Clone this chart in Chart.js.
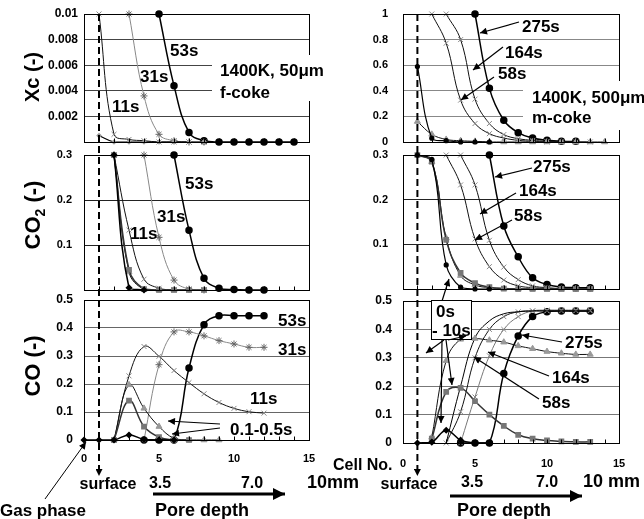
<!DOCTYPE html>
<html>
<head>
<meta charset="utf-8">
<script src="https://cdn.jsdelivr.net/npm/chart.js@4/dist/chart.umd.min.js"></script>
<style>
  body { margin: 0; background: #fff; }
  #wrap { position: relative; width: 644px; height: 519px; overflow: hidden; background: #fff; }
  canvas { position: absolute; }
  #ann { position: absolute; left: 0; top: 0; }
  #ann text { font-family: Arial, "Liberation Sans", sans-serif; font-weight: bold; fill: #000; }
  #ann text.lab { font-size: 17px; }
</style>
</head>
<body>
<div id="wrap">
  <canvas id="cLT" width="318" height="140" style="left:0;top:8px"></canvas>
  <canvas id="cLM" width="318" height="147" style="left:0;top:149px"></canvas>
  <canvas id="cLB" width="318" height="176" style="left:0;top:294px"></canvas>
  <canvas id="cRT" width="324" height="140" style="left:320px;top:8px"></canvas>
  <canvas id="cRM" width="324" height="146" style="left:320px;top:149px"></canvas>
  <canvas id="cRB" width="324" height="178" style="left:320px;top:295px"></canvas>

  <svg id="ann" width="644" height="519">
    <defs>
      <marker id="ah" viewBox="0 0 10 10" refX="10" refY="5" markerWidth="8" markerHeight="7" markerUnits="userSpaceOnUse" orient="auto"><path d="M0,0 L10,5 L0,10 z" fill="#000"/></marker>
      <marker id="ahBig" viewBox="0 0 10 10" refX="10" refY="5" markerWidth="14" markerHeight="12" markerUnits="userSpaceOnUse" orient="auto"><path d="M0,0 L10,5 L0,10 z" fill="#000"/></marker>
    </defs>

    <!-- white label boxes -->
    <rect x="212" y="55" width="113" height="46" fill="#fff"/>
    <rect x="523" y="81" width="121" height="49" fill="#fff"/>

    <!-- y titles -->
    <text transform="translate(39,77) rotate(-90)" text-anchor="middle" font-size="20">Xc (-)</text>
    <text transform="translate(40,215) rotate(-90)" text-anchor="middle" font-size="22">CO<tspan font-size="14" dy="5">2</tspan><tspan dy="-5"> (-)</tspan></text>
    <text transform="translate(40,366) rotate(-90)" text-anchor="middle" font-size="22">CO (-)</text>

    <!-- left top -->
    <text class="lab" x="170" y="56">53s</text>
    <text class="lab" x="140" y="82">31s</text>
    <text class="lab" x="112" y="112">11s</text>
    <text class="lab" x="220" y="76">1400K, 50μm</text>
    <text class="lab" x="220" y="98">f-coke</text>

    <!-- left middle -->
    <text class="lab" x="185" y="189">53s</text>
    <text class="lab" x="157" y="222">31s</text>
    <text class="lab" x="130" y="239">11s</text>

    <!-- left bottom -->
    <text class="lab" x="278" y="326">53s</text>
    <text class="lab" x="278" y="355">31s</text>
    <text class="lab" x="250" y="404">11s</text>
    <text class="lab" x="230" y="435">0.1-0.5s</text>
    <line x1="220" y1="424" x2="168" y2="421" stroke="#000" stroke-width="1.2" marker-end="url(#ah)"/>
    <line x1="220" y1="428" x2="172" y2="434" stroke="#000" stroke-width="1.2" marker-end="url(#ah)"/>

    <!-- right top -->
    <text class="lab" x="522" y="32">275s</text>
    <text class="lab" x="505" y="58">164s</text>
    <text class="lab" x="498" y="79">58s</text>
    <line x1="519" y1="22" x2="480" y2="33" stroke="#000" stroke-width="1.2" marker-end="url(#ah)"/>
    <line x1="503" y1="47" x2="473" y2="70" stroke="#000" stroke-width="1.2" marker-end="url(#ah)"/>
    <line x1="494" y1="77" x2="461" y2="100" stroke="#000" stroke-width="1.2" marker-end="url(#ah)"/>
    <text class="lab" x="532" y="103">1400K, 500μm</text>
    <text class="lab" x="532" y="123">m-coke</text>

    <!-- right middle -->
    <text class="lab" x="533" y="172">275s</text>
    <text class="lab" x="519" y="196">164s</text>
    <text class="lab" x="514" y="221">58s</text>
    <line x1="532" y1="168" x2="495" y2="177" stroke="#000" stroke-width="1.2" marker-end="url(#ah)"/>
    <line x1="516" y1="193" x2="480" y2="214" stroke="#000" stroke-width="1.2" marker-end="url(#ah)"/>
    <line x1="512" y1="220" x2="475" y2="240" stroke="#000" stroke-width="1.2" marker-end="url(#ah)"/>
    <line x1="442" y1="301" x2="449" y2="279" stroke="#000" stroke-width="1.2" marker-end="url(#ah)"/>

    <!-- right bottom -->
    <rect x="431.5" y="300.5" width="40" height="39" fill="#fff" stroke="#000" stroke-width="1"/>
    <text class="lab" x="436" y="317">0s</text>
    <text class="lab" x="432" y="336">- 10s</text>
    <line x1="444" y1="340" x2="426" y2="353" stroke="#000" stroke-width="1.2" marker-end="url(#ah)"/>
    <line x1="446" y1="340" x2="452" y2="385" stroke="#000" stroke-width="1.2" marker-end="url(#ah)"/>
    <line x1="442" y1="340" x2="441" y2="423" stroke="#000" stroke-width="1.2" marker-end="url(#ah)"/>
    <line x1="448" y1="340" x2="466" y2="336" stroke="#000" stroke-width="1.2" marker-end="url(#ah)"/>
    <text class="lab" x="565" y="348">275s</text>
    <text class="lab" x="552" y="383">164s</text>
    <text class="lab" x="542" y="408">58s</text>
    <line x1="562" y1="342" x2="522" y2="335" stroke="#000" stroke-width="1.2" marker-end="url(#ah)"/>
    <line x1="549" y1="376" x2="488" y2="352" stroke="#000" stroke-width="1.2" marker-end="url(#ah)"/>
    <line x1="539" y1="399" x2="474" y2="357" stroke="#000" stroke-width="1.2" marker-end="url(#ah)"/>

    <!-- bottom captions -->
    <text x="333" y="470" font-size="16">Cell No.</text>
    <text x="108" y="489" font-size="16" text-anchor="middle">surface</text>
    <text x="409" y="489" font-size="16" text-anchor="middle">surface</text>
    <text x="160" y="488" font-size="16" text-anchor="middle">3.5</text>
    <text x="252" y="488" font-size="16" text-anchor="middle">7.0</text>
    <text x="472" y="487" font-size="16" text-anchor="middle">3.5</text>
    <text x="547" y="487" font-size="16" text-anchor="middle">7.0</text>
    <text x="307" y="488" font-size="18">10mm</text>
    <text x="583" y="487" font-size="18">10 mm</text>
    <line x1="153" y1="494" x2="285" y2="494" stroke="#000" stroke-width="3" marker-end="url(#ahBig)"/>
    <line x1="450" y1="496" x2="582" y2="496" stroke="#000" stroke-width="3" marker-end="url(#ahBig)"/>
    <text x="155" y="516" font-size="18">Pore depth</text>
    <text x="457" y="516" font-size="18">Pore depth</text>
    <text x="0" y="516" font-size="17">Gas phase</text>
    <line x1="45" y1="499" x2="86" y2="442" stroke="#000" stroke-width="1" marker-end="url(#ah)"/>
  </svg>
</div>

<script>
const FONT = 'Arial, "Liberation Sans", sans-serif';
const _ = null;

// cell numbers (x axis)
const cells = [0, 1, 2, 3, 4, 5, 6, 7, 8, 9, 10, 11, 12, 13, 14];

// --- f-coke (50um), Xc ---
const fXc05 = [_, 0.0005, 0, 0, 0, 0, 0, 0, 0, _, _, _, _, _, _];
const fXc11 = [_, 0.01, 0.0006, 0.0002, 0.0001, 0, 0, 0, _, _, _, _, _, _, _];
const fXc31 = [_, _, _, 0.01, 0.0036, 0.0006, 0.0001, 0, 0, _, _, _, _, _, _];
const fXc53 = [_, _, _, _, _, 0.01, 0.0044, 0.00075, 0.0001, 0, 0, 0, 0, 0, 0];

// --- f-coke, CO2 ---
const fCO2_01 = [_, _, 0.3, 0.005, 0, _, _, _, _, _, _, _, _, _, _];
const fCO2_02 = [_, _, 0.3, 0.045, 0.002, 0, 0, 0, 0, _, _, _, _, _, _];
const fCO2_05 = [_, _, 0.3, 0.04, 0.001, 0, 0, _, _, _, _, _, _, _, _];
const fCO2_11 = [_, _, 0.3, 0.133, 0.024, 0.004, 0, 0, _, _, _, _, _, _, _];
const fCO2_31 = [_, _, _, _, 0.3, 0.117, 0.022, 0.002, 0, _, _, _, _, _, _];
const fCO2_53 = [_, _, _, _, _, _, 0.3, 0.133, 0.026, 0.004, 0.001, 0, 0, _, _];

// --- f-coke, CO ---
const fCO_01 = [0, 0, 0, 0.018, 0.002, 0, 0, _, _, _, _, _, _, _, _];
const fCO_02 = [_, _, 0, 0.141, 0.048, 0.01, 0, 0, _, _, _, _, _, _, _];
const fCO_05 = [_, _, 0, 0.197, 0.113, 0.048, 0.006, 0, 0, 0, _, _, _, _, _];
const fCO_11 = [_, _, 0, 0.229, 0.334, 0.299, 0.248, 0.205, 0.165, 0.134, 0.113, 0.101, 0.096, _, _];
const fCO_31 = [_, _, _, _, 0, 0.269, 0.386, 0.386, 0.372, 0.355, 0.343, 0.331, 0.331, _, _];
const fCO_53 = [_, _, _, _, 0, 0, 0, 0.257, 0.412, 0.444, 0.444, 0.444, 0.444, _, _];

// --- m-coke (500um), Xc ---
const mXc0 = [_, 0.59, 0.03, 0.01, 0, 0, 0, _, _, _, _, _, _, _, _];
const mXc10 = [_, 0.16, 0.06, 0.02, 0.01, 0.005, 0, 0, 0, 0, 0, 0, 0, 0, 0];
const mXc58 = [_, _, 1.0, 0.772, 0.327, 0.144, 0.065, 0.031, 0.013, 0.005, 0, 0, _, _, _];
const mXc164 = [_, _, _, 1.0, 0.80, 0.335, 0.144, 0.058, 0.026, 0.013, 0.005, 0, 0, 0, _];
const mXc275 = [_, _, _, _, _, 1.0, 0.419, 0.17, 0.073, 0.031, 0.013, 0.005, 0.005, _, _];

// --- m-coke, CO2 ---
const mCO2_0 = [_, 0.3, 0.29, 0.054, 0.004, 0, 0, _, _, _, _, _, _, _, _];
const mCO2_sq = [_, 0.3, 0.285, 0.11, 0.036, 0.013, 0.004, 0.001, 0, 0, 0, 0, 0, 0, _];
const mCO2_tri = [_, 0.3, 0.285, 0.114, 0.03, 0.009, 0.003, 0.001, 0, 0, 0, 0, 0, 0, _];
const mCO2_58 = [_, _, _, 0.3, 0.233, 0.112, 0.05, 0.02, 0.007, 0.003, 0.001, 0, 0, 0, _];
const mCO2_164 = [_, _, _, _, 0.3, 0.233, 0.109, 0.049, 0.021, 0.007, 0.003, 0.001, 0, 0, _];
const mCO2_275 = [_, _, _, _, _, _, 0.3, 0.141, 0.072, 0.025, 0.01, 0.0045, 0.003, 0.003, _];

// --- m-coke, CO ---
const mCO_0 = [_, 0, 0.003, 0.045, 0.01, 0, 0, _, _, _, _, _, _, _, _];
const mCO_sq = [_, _, 0.015, 0.18, 0.194, 0.147, 0.1, 0.06, 0.029, 0.015, 0.009, 0.006, 0.004, 0.004, _];
const mCO_tri = [_, _, 0.02, 0.29, 0.365, 0.368, 0.362, 0.355, 0.342, 0.332, 0.322, 0.316, 0.312, 0.312, _];
const mCO_10 = [_, _, _, 0, 0.2, 0.37, 0.43, 0.455, 0.462, 0.465, 0.465, 0.465, 0.465, 0.465, _];
const mCO_58 = [_, _, _, 0, 0.11, 0.30, 0.40, 0.445, 0.462, 0.465, 0.465, 0.465, 0.465, 0.465, _];
const mCO_164 = [_, _, _, _, 0, 0.162, 0.307, 0.40, 0.445, 0.465, 0.468, 0.468, 0.468, 0.468, _];
const mCO_275 = [_, _, _, _, 0, 0, 0, 0.245, 0.377, 0.445, 0.462, 0.465, 0.465, 0.465, _];

// marker / line styles
const BLACK_DOT = { borderColor: '#000', borderWidth: 1.5, pointStyle: 'circle', pointRadius: 3, pointBackgroundColor: '#000', pointBorderColor: '#000' };
const SMALL_DOT = { borderColor: '#000', borderWidth: 1.2, pointStyle: 'circle', pointRadius: 2, pointBackgroundColor: '#000', pointBorderColor: '#000' };
const GRAY_STAR = { borderColor: '#888', borderWidth: 1, pointStyle: 'star', pointRadius: 3.5, pointBackgroundColor: '#666', pointBorderColor: '#666', pointBorderWidth: 1 };
const GRAY_X = { borderColor: '#111', borderWidth: 1, pointStyle: 'crossRot', pointRadius: 3.5, pointBorderColor: '#888', pointBorderWidth: 1 };
const GRAY_X_THIN = { borderColor: '#777', borderWidth: 1, pointStyle: 'crossRot', pointRadius: 3.5, pointBorderColor: '#888', pointBorderWidth: 1 };
const GRAY_SQ = { borderColor: '#333', borderWidth: 1.5, pointStyle: 'rect', pointRadius: 3, pointBackgroundColor: '#777', pointBorderColor: '#777' };
const GRAY_TRI = { borderColor: '#111', borderWidth: 1, pointStyle: 'triangle', pointRadius: 3.5, pointBackgroundColor: '#999', pointBorderColor: '#999' };
const BLACK_DIA = { borderColor: '#000', borderWidth: 1.5, pointStyle: 'rectRot', pointRadius: 2.5, pointBackgroundColor: '#000', pointBorderColor: '#000' };
const GRAY_DIA = { borderColor: '#000', borderWidth: 1.2, pointStyle: 'rectRot', pointRadius: 2, pointBackgroundColor: '#999', pointBorderColor: '#999' };
const PLAIN = { borderColor: '#000', borderWidth: 1, pointRadius: 0 };

function series(values, style) {
    const data = [];
    values.forEach((v, i) => { if (v !== null) data.push({ x: cells[i], y: v }); });
    return Object.assign({ data: data, tension: 0.4, fill: false, clip: false }, style);
}

// plot frame + small inside ticks on the bottom edge
const framePlugin = {
    id: 'frame',
    afterDatasetsDraw(chart) {
        const { ctx, chartArea: a } = chart;
        const xs = chart.scales.x;
        ctx.save();
        ctx.strokeStyle = '#000';
        ctx.lineWidth = 1;
        const l = Math.round(a.left) + 0.5, t = Math.round(a.top) + 0.5;
        const r = Math.round(a.right) + 0.5, b = Math.round(a.bottom) + 0.5;
        ctx.strokeRect(l, t, r - l, b - t);
        ctx.beginPath();
        for (let c = 0; c <= 15; c++) {
            const px = Math.round(xs.getPixelForValue(c)) + 0.5;
            ctx.moveTo(px, b);
            ctx.lineTo(px, b - 4);
        }
        ctx.stroke();
        ctx.restore();
    }
};

const fmtXc = v => { const k = Math.round(v * 1000); return (k > 0 && k % 2 === 0) ? String(k / 1000) : ''; };
const fmtNoZero = v => { const k = Math.round(v * 10); return k > 0 ? String(k / 10) : ''; };
const fmtTenth = v => String(Math.round(v * 10) / 10);

function panel(id, p) {
    return new Chart(document.getElementById(id), {
        type: 'line',
        data: { datasets: p.datasets },
        plugins: [framePlugin],
        options: {
            responsive: false,
            animation: false,
            devicePixelRatio: 1,
            layout: { padding: { left: 0, top: 6, right: p.padRight, bottom: p.xLabels ? 0 : 6 } },
            plugins: { legend: { display: false }, tooltip: { enabled: false } },
            scales: {
                x: {
                    type: 'linear', min: 0, max: 15, display: p.xLabels,
                    ticks: { stepSize: 5, color: '#000', padding: p.xPad || 0, maxRotation: 0,
                             font: { family: FONT, weight: 'bold', size: 11 }, callback: v => String(v) },
                    grid: { drawOnChartArea: false, drawTicks: false },
                    border: { display: false },
                    afterFit: s => { if (p.xLabels) s.height = 30; s.paddingLeft = 0; s.paddingRight = 0; }
                },
                y: {
                    type: 'linear', min: 0, max: p.yMax,
                    ticks: { stepSize: p.step, callback: p.fmt, color: '#000', padding: p.yPad,
                             font: { family: FONT, weight: 'bold', size: p.yFont } },
                    grid: { color: p.gridColor, lineWidth: 1, drawTicks: false },
                    border: { display: false },
                    afterFit: s => { s.width = p.yWidth; s.paddingTop = 0; s.paddingBottom = 0; }
                }
            }
        }
    });
}

const chartLT = panel('cLT', {
    yMax: 0.01, step: 0.001, fmt: fmtXc, yPad: 6, yFont: 12, yWidth: 84, padRight: 9, xLabels: false, gridColor: '#444',
    datasets: [series(fXc05, GRAY_DIA), series(fXc11, GRAY_X), series(fXc31, GRAY_STAR), series(fXc53, BLACK_DOT)]
});
const chartLM = panel('cLM', {
    yMax: 0.3, step: 0.1, fmt: fmtNoZero, yPad: 12, yFont: 11, yWidth: 84, padRight: 9, xLabels: false, gridColor: '#222',
    datasets: [series(fCO2_01, BLACK_DIA), series(fCO2_02, GRAY_SQ), series(fCO2_05, GRAY_TRI),
               series(fCO2_11, GRAY_X), series(fCO2_31, GRAY_STAR), series(fCO2_53, BLACK_DOT)]
});
const chartLB = panel('cLB', {
    yMax: 0.5, step: 0.1, fmt: fmtTenth, yPad: 11, yFont: 12, yWidth: 84, padRight: 9, xLabels: true, xPad: 12, gridColor: '#666',
    datasets: [series(fCO_01, BLACK_DIA), series(fCO_02, GRAY_SQ), series(fCO_05, GRAY_TRI),
               series(fCO_11, GRAY_X), series(fCO_31, GRAY_STAR), series(fCO_53, BLACK_DOT)]
});
const chartRT = panel('cRT', {
    yMax: 1, step: 0.2, fmt: fmtTenth, yPad: 15, yFont: 11, yWidth: 83, padRight: 25, xLabels: false, gridColor: '#888',
    datasets: [series(mXc0, SMALL_DOT), series(mXc10, GRAY_TRI), series(mXc58, GRAY_X),
               series(mXc164, GRAY_X), series(mXc275, BLACK_DOT)]
});
const chartRM = panel('cRM', {
    yMax: 0.3, step: 0.1, fmt: fmtNoZero, yPad: 15, yFont: 11, yWidth: 83, padRight: 25, xLabels: false, gridColor: '#222',
    datasets: [series(mCO2_0, SMALL_DOT), series(mCO2_sq, GRAY_SQ), series(mCO2_tri, GRAY_TRI),
               series(mCO2_58, GRAY_X), series(mCO2_164, GRAY_X), series(mCO2_275, BLACK_DOT)]
});
const chartRB = panel('cRB', {
    yMax: 0.5, step: 0.1, fmt: fmtTenth, yPad: 11, yFont: 12, yWidth: 83, padRight: 25, xLabels: true, xPad: 14, gridColor: '#777',
    datasets: [series(mCO_0, BLACK_DIA), series(mCO_sq, GRAY_SQ), series(mCO_tri, GRAY_TRI), series(mCO_10, PLAIN),
               series(mCO_58, GRAY_X), series(mCO_164, GRAY_X_THIN), series(mCO_275, BLACK_DOT)]
});

// dashed "surface" lines at cell 1, running through all three panels
const svg = document.getElementById('ann');
function surfaceLine(chart, offX, offY) {
    const x = offX + chart.scales.x.getPixelForValue(1);
    const ln = document.createElementNS('http://www.w3.org/2000/svg', 'line');
    ln.setAttribute('x1', x); ln.setAttribute('x2', x);
    ln.setAttribute('y1', offY + chart.chartArea.top);
    ln.setAttribute('y2', 476);
    ln.setAttribute('stroke', '#000');
    ln.setAttribute('stroke-width', '2');
    ln.setAttribute('stroke-dasharray', '7,4');
    ln.setAttribute('marker-end', 'url(#ah)');
    svg.appendChild(ln);
}
surfaceLine(chartLT, 0, 8);
surfaceLine(chartRT, 320, 8);
</script>
</body>
</html>
